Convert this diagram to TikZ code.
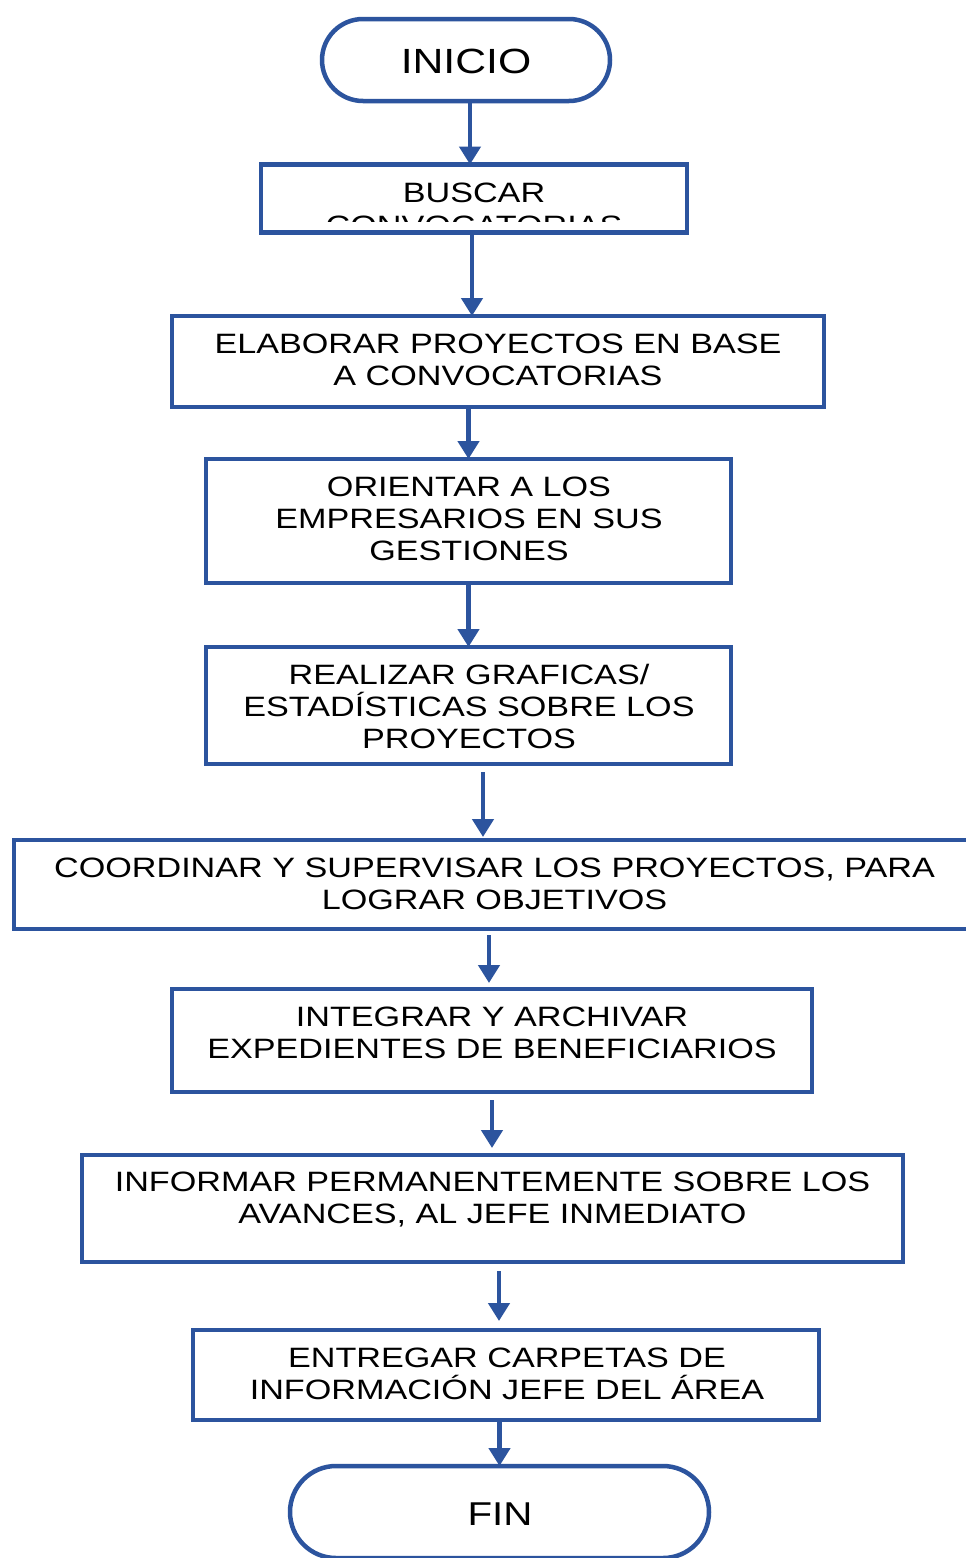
\documentclass[tikz,border=0pt]{standalone}
\usepackage{fontspec}
\setmainfont[FakeStretch=1.22]{Liberation Sans}
\usetikzlibrary{arrows.meta}
\definecolor{flowblue}{RGB}{44,84,158}
\begin{document}
\begin{tikzpicture}[x=1pt,y=-1pt,
  stepbox/.style={draw=flowblue, line width=4.5pt, fill=white, inner sep=0pt, outer sep=0pt},
  term/.style={stepbox, rounded corners=#1},
  steptext/.style={font=\fontsize{28}{32}\selectfont, align=center, inner sep=0pt, text=black},
  termtext/.style={font=\fontsize{#1}{#1}\selectfont, inner sep=0pt, text=black},
  flow/.style={draw=flowblue, line width=4.5pt, -{Triangle[width=21pt,length=18pt]}}
]
\useasboundingbox (0,0) rectangle (966,1558);
\clip (0,0) rectangle (966,1558);
\fill[white] (0,0) rectangle (966,1558);

% terminals and process boxes
\node[term=41pt, minimum width=288pt, minimum height=82pt] (inicio) at (466,60) {};
\node[stepbox, minimum width=426pt, minimum height=68pt] (buscar) at (474,198.5) {};
\node[stepbox, minimum width=652pt, minimum height=91pt] (elaborar) at (498,361.5) {};
\node[stepbox, minimum width=525pt, minimum height=124pt] (orientar) at (468.5,521) {};
\node[stepbox, minimum width=525pt, minimum height=117pt] (realizar) at (468.5,705.5) {};
\node[stepbox, minimum width=961pt, minimum height=89pt] (coordinar) at (494.5,884.5) {};
\node[stepbox, minimum width=640pt, minimum height=103pt] (integrar) at (492,1040.5) {};
\node[stepbox, minimum width=821pt, minimum height=107pt] (informar) at (492.5,1208.5) {};
\node[stepbox, minimum width=626pt, minimum height=90pt] (entregar) at (506,1375) {};
\node[term=46pt, minimum width=419pt, minimum height=92pt] (fin) at (499.5,1512) {};

% labels
\node[termtext=35] (tinicio) at (466,61) {INICIO};
\node[steptext] (tbuscar) at (474,193) {BUSCAR};
\begin{scope}
  \clip (262,212) rectangle (686,221);
  \node[steptext, anchor=base] (tbuscar2) at (474,235) {CONVOCATORIAS};
\end{scope}
\node[steptext] (telaborar) at (498,360) {ELABORAR PROYECTOS EN BASE\\A CONVOCATORIAS};
\node[steptext] (torientar) at (469,519) {ORIENTAR A LOS\\EMPRESARIOS EN SUS\\GESTIONES};
\node[steptext] (trealizar) at (469,706) {REALIZAR GRAFICAS/\\ESTADÍSTICAS SOBRE LOS\\PROYECTOS};
\node[steptext] (tcoordinar) at (494.5,883.5) {COORDINAR Y SUPERVISAR LOS PROYECTOS, PARA\\LOGRAR OBJETIVOS};
\node[steptext] (tintegrar) at (492,1033) {INTEGRAR Y ARCHIVAR\\EXPEDIENTES DE BENEFICIARIOS};
\node[steptext] (tinformar) at (492.5,1199.5) {INFORMAR PERMANENTEMENTE SOBRE LOS\\AVANCES, AL JEFE INMEDIATO};
\node[steptext] (tentregar) at (507,1373.5) {ENTREGAR CARPETAS DE\\INFORMACIÓN JEFE DEL ÁREA};
\node[termtext=33] (tfin) at (500,1514) {FIN};

% connectors
\draw[flow] ([xshift=4pt]inicio.south) -- ([xshift=-4pt]buscar.north);
\draw[flow] ([xshift=-2pt]buscar.south) -- ([xshift=-2pt]buscar.south |- elaborar.north);
\draw[flow] (orientar.north |- elaborar.south) -- (orientar.north);
\draw[flow] (orientar.south) -- (realizar.north);
\draw[flow, shorten <=8pt, shorten >=3pt] ([xshift=14.5pt]realizar.south) -- ([xshift=14.5pt]realizar.south |- coordinar.north);
\draw[flow, shorten <=6pt, shorten >=6pt] ([xshift=-5.5pt]coordinar.south) -- ([xshift=-5.5pt]coordinar.south |- integrar.north);
\draw[flow, shorten <=8pt, shorten >=7pt] (integrar.south) -- (integrar.south |- informar.north);
\draw[flow, shorten <=9pt, shorten >=9pt] ([xshift=6.5pt]informar.south) -- ([xshift=6.5pt]informar.south |- entregar.north);
\draw[flow] (fin.north |- entregar.south) -- (fin.north);
\end{tikzpicture}
\end{document}
